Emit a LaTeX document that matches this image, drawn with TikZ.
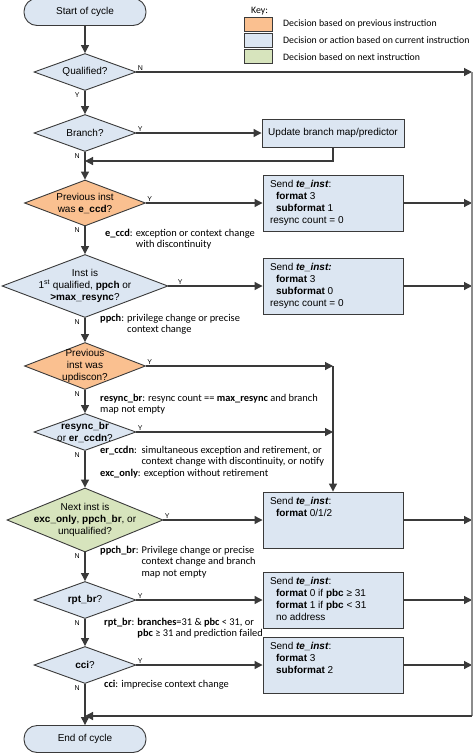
\documentclass[tikz,border=0pt]{standalone}
\usepackage{fontspec}
\setmainfont{Liberation Sans}
\newfontfamily\notefont{Carlito}
\usetikzlibrary{shapes.geometric,arrows.meta}
\definecolor{prevfill}{HTML}{FAC090}
\definecolor{curfill}{HTML}{DCE6F2}
\definecolor{nextfill}{HTML}{D7E4BD}
\definecolor{linegray}{HTML}{3A3A3A}
\definecolor{railgray}{HTML}{8C8C8C}
\newcommand{\sendtxt}[1]{\parbox[c][46pt][t]{126pt}{#1}}
\newcommand{\ind}{\hspace*{6pt}}

\begin{document}
\begin{tikzpicture}[x=1pt,y=-1pt,
    line/.style={draw=linegray,line width=1.2pt},
    flow/.style={line,-{Triangle[length=8pt,width=8pt]}},
    rail/.style={draw=railgray,line width=2pt},
    dec/.style={diamond,draw=linegray,line width=0.9pt,inner sep=0pt},
    dtext/.style={align=center,font=\fontsize{10}{12}\selectfont,inner sep=0pt},
    term/.style={draw=linegray,line width=0.9pt,fill=curfill,rounded corners=13pt,
      minimum width=122pt,minimum height=27pt,font=\fontsize{10}{12}\selectfont},
    sendbox/.style={draw=linegray,line width=0.9pt,fill=curfill,inner xsep=7pt,inner ysep=5pt,
      font=\fontsize{10}{12}\selectfont},
    yn/.style={font=\fontsize{7}{8}\selectfont,inner sep=1.2pt},
    note/.style={font=\notefont\fontsize{10.4}{11.9}\selectfont,inner sep=0pt,anchor=base west},
    keytext/.style={font=\notefont\fontsize{9.8}{11}\selectfont,inner sep=0pt,anchor=west},
    swatch/.style={draw=linegray,line width=0.9pt,minimum width=28pt,minimum height=14pt,inner sep=0pt}
  ]
  \useasboundingbox (0,0) rectangle (474,753);

  % key
  \node[keytext] (keyt) at (251,11) {Key:};
  \node[swatch,fill=prevfill] (keyprev) at (258,24) {};
  \node[swatch,fill=curfill] (keycur) at (258,40) {};
  \node[swatch,fill=nextfill] (keynext) at (258,56) {};
  \node[keytext] (keyprevt) at (283,24) {Decision based on previous instruction};
  \node[keytext] (keycurt) at (283,40) {Decision or action based on current instruction};
  \node[keytext] (keynextt) at (283,57) {Decision based on next instruction};

  % main column
  \node[term] (startc) at (85,12) {Start of cycle};
  \node[dec,fill=curfill,minimum width=102pt,minimum height=37pt] (qual) at (85,72) {};
  \node[dtext] (qualt) at (qual) {Qualified?};
  \node[dec,fill=curfill,minimum width=102pt,minimum height=37pt] (branch) at (85,133) {};
  \node[dtext] (brancht) at (branch) {Branch?};
  \node[dec,fill=prevfill,minimum width=121pt,minimum height=46pt] (eccd) at (85,203) {};
  \node[dtext] (eccdt) at (eccd) {Previous inst\\was \textbf{e\_ccd}?};
  \node[dec,fill=curfill,minimum width=166pt,minimum height=63pt] (first) at (85,286) {};
  \node[dtext] (firstt) at (first) {Inst is\\1\textsuperscript{st} qualified, \textbf{ppch} or\\\textbf{>max\_resync}?};
  \node[dec,fill=prevfill,minimum width=121pt,minimum height=47pt] (updis) at (85,366) {};
  \node[dtext] (updist) at (updis) {Previous\\inst was\\updiscon?};
  \node[dec,fill=curfill,minimum width=102pt,minimum height=37pt] (resync) at (85,432) {};
  \node[dtext] (resynct) at (resync) {\textbf{resync\_br}\\or \textbf{er\_ccdn}?};
  \node[dec,fill=nextfill,minimum width=156pt,minimum height=64pt] (nexti) at (85,520) {};
  \node[dtext] (nextit) at (nexti) {Next inst is\\\textbf{exc\_only}, \textbf{ppch\_br}, or\\unqualified?};
  \node[dec,fill=curfill,minimum width=102pt,minimum height=37pt] (rpt) at (85,600) {};
  \node[dtext] (rptt) at (rpt) {\textbf{rpt\_br}?};
  \node[dec,fill=curfill,minimum width=102pt,minimum height=37pt] (cci) at (85,665) {};
  \node[dtext] (ccit) at (cci) {\textbf{cci}?};
  \node[term] (endc) at (85,739) {End of cycle};

  % action boxes
  \node[sendbox,align=center,minimum width=142pt,minimum height=28pt,inner sep=0pt] (upd) at (333,133) {Update branch map/predictor};
  \node[sendbox] (send1) at (333,203) {\sendtxt{Send \textbf{\textit{te\_inst}}:\\\ind\textbf{format} 3\\\ind\textbf{subformat} 1\\resync count = 0}};
  \node[sendbox] (send2) at (333,286) {\sendtxt{Send \textbf{\textit{te\_inst:}}\\\ind\textbf{format} 3\\\ind\textbf{subformat} 0\\resync count = 0}};
  \node[sendbox] (send3) at (333,520) {\sendtxt{Send \textbf{\textit{te\_inst}}:\\\ind\textbf{format} 0/1/2}};
  \node[sendbox] (send4) at (333,600) {\sendtxt{Send \textbf{\textit{te\_inst}}:\\\ind\textbf{format} 0 if \textbf{pbc} ≥ 31\\\ind\textbf{format} 1 if \textbf{pbc} < 31\\\ind no address}};
  \node[sendbox] (send5) at (333,665) {\sendtxt{Send \textbf{\textit{te\_inst}}:\\\ind\textbf{format} 3\\\ind\textbf{subformat} 2}};

  % notes
  \node[note] (eccdn) at (105,236) {\begin{tabular}[t]{@{}l@{ }l@{}}\textbf{e\_ccd}: & exception or context change\\ & with discontinuity\end{tabular}};
  \node[note] (ppchn) at (100,321) {\begin{tabular}[t]{@{}l@{ }l@{}}\textbf{ppch}: & privilege change or precise\\ & context change\end{tabular}};
  \node[note] (resyncn) at (100,401) {\begin{tabular}[t]{@{}l@{}}\textbf{resync\_br}: resync count == \textbf{max\_resync} and branch\\map not empty\end{tabular}};
  \node[note] (erccdnn) at (100,453) {\begin{tabular}[t]{@{}l@{\ \ }l@{}}\textbf{er\_ccdn}: & simultaneous exception and retirement, or\\ & context change with discontinuity, or notify\\\multicolumn{2}{@{}l@{}}{\textbf{exc\_only}: exception without retirement}\end{tabular}};
  \node[note] (ppchbrn) at (100,553) {\begin{tabular}[t]{@{}l@{ }l@{}}\textbf{ppch\_br}: & Privilege change or precise\\ & context change and branch\\ & map not empty\end{tabular}};
  \node[note] (rptn) at (104,625) {\begin{tabular}[t]{@{}l@{ }l@{}}\textbf{rpt\_br}: & \textbf{branches}=31 \& \textbf{pbc} < 31, or\\ & \textbf{pbc} ≥ 31 and prediction failed\end{tabular}};
  \node[note] (ccin) at (104,687) {\textbf{cci}: imprecise context change};

  % joints
  \coordinate (rtop) at (472,72);
  \coordinate (rbot) at (472,716);
  \coordinate (jupd) at (85,161);
  \coordinate (jend) at (85,716);
  \coordinate (jsend3) at (send3.north |- updis.east);

  % connectors down the main column
  \draw[flow] (startc) -- (qual);
  \draw[flow] (qual) -- (branch);
  \draw[flow] (branch) -- (eccd);
  \draw[flow] (eccd) -- (first);
  \draw[flow] (first) -- (updis);
  \draw[flow] (updis) -- (resync);
  \draw[flow] (resync) -- (nexti);
  \draw[flow] (nexti) -- (rpt);
  \draw[flow] (rpt) -- (cci);
  \draw[flow] (cci) -- (endc);

  % side branches
  \draw[flow] (qual.east) -- (rtop);
  \draw[flow] (branch.east) -- (upd.west);
  \draw[flow] (upd.south) |- (jupd);
  \draw[flow] (eccd.east) -- (send1.west);
  \draw[flow] (first.east) -- (send2.west);
  \draw[flow] (updis.east) -- (jsend3);
  \draw[flow] (jsend3) -- (send3.north);
  \draw[flow] (resync.east) -- (resync.east -| send3.north);
  \draw[flow] (nexti.east) -- (send3.west);
  \draw[flow] (rpt.east) -- (send4.west);
  \draw[flow] (cci.east) -- (send5.west);
  \foreach \b in {send1,send2,send3,send4,send5}
    \draw[flow] (\b.east) -- (\b.east -| rtop);
  \draw[rail] (rtop) -- (rbot);
  \draw[flow] (rbot) -- (jend);

  % Y / N labels
  \node[yn,anchor=south west] (qualy) at (qual.east) {N};
  \node[yn,anchor=north east,xshift=-4pt] (qualn) at (qual.south) {Y};
  \node[yn,anchor=south west] (branchy) at (branch.east) {Y};
  \node[yn,anchor=north east,xshift=-4pt] (branchn) at (branch.south) {N};
  \node[yn,anchor=south west] (eccdy) at (eccd.east) {Y};
  \node[yn,anchor=north east,xshift=-4pt] (eccdnl) at (eccd.south) {N};
  \node[yn,anchor=south west,xshift=8pt] (firsty) at (first.east) {Y};
  \node[yn,anchor=north east,xshift=-4pt] (firstn) at (first.south) {N};
  \node[yn,anchor=south west] (updisy) at (updis.east) {Y};
  \node[yn,anchor=north east,xshift=-4pt] (updisn) at (updis.south) {N};
  \node[yn,anchor=south west] (resyncy) at (resync.east) {Y};
  \node[yn,anchor=north east,xshift=-4pt] (resyncnl) at (resync.south) {N};
  \node[yn,anchor=south west] (nextiy) at (nexti.east) {Y};
  \node[yn,anchor=north east,xshift=-4pt] (nextin) at (nexti.south) {N};
  \node[yn,anchor=south west] (rpty) at (rpt.east) {Y};
  \node[yn,anchor=north east,xshift=-4pt] (rptnl) at (rpt.south) {N};
  \node[yn,anchor=south west] (cciy) at (cci.east) {Y};
  \node[yn,anchor=north east,xshift=-4pt] (ccinl) at (cci.south) {N};
\end{tikzpicture}
\end{document}
